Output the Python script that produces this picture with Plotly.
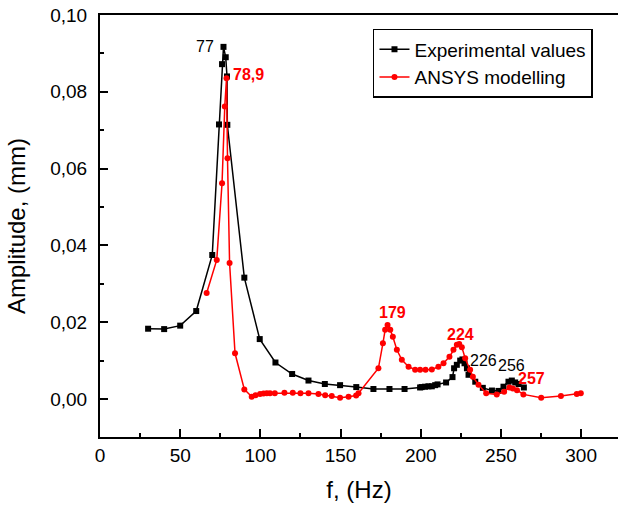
import plotly.graph_objects as go

# Experimental values (black squares)
exp_f = [30, 40, 50, 60, 70, 74.2, 76.1, 77, 78.4, 79.2, 79.4, 90, 99.6, 109.4, 119.8, 130, 140.2,
         149.7, 159.8, 170.5, 180.5, 189.9, 199.6, 200.6, 202.7, 204.8, 206.9, 209, 210.5, 215.8,
         219.8, 220.8, 222.5, 224.6, 226, 227.3, 228.8, 229.8, 234, 238.7, 244.4, 248.5, 251.6,
         254.7, 256.8, 258.9, 261, 264.3]
exp_a = [0.0183, 0.0182, 0.0191, 0.0229, 0.0375, 0.0715, 0.0872, 0.0917, 0.0890, 0.0840, 0.0714,
         0.0316, 0.0156, 0.0095, 0.0065, 0.0048, 0.0039, 0.0036, 0.0031, 0.0026, 0.0026, 0.0026,
         0.0030, 0.0031, 0.0032, 0.0033, 0.0033, 0.0036, 0.0038, 0.0043, 0.0057, 0.0080, 0.0089,
         0.0100, 0.0103, 0.0093, 0.0080, 0.0063, 0.0045, 0.0029, 0.0022, 0.0021, 0.0032, 0.0045,
         0.0048, 0.0043, 0.0039, 0.0030]

# ANSYS modelling (red circles)
ans_f = [66.5, 72.8, 76.1, 77.8, 78.9, 79.5, 80.8, 84.2, 90, 94.6, 97, 99.8, 102, 104, 106, 109,
         115, 120.2, 125, 130, 136.2, 140.4, 144.5, 149.7, 155, 159.7, 161.2, 173.6, 176.4, 177.8,
         179.3, 181, 182.6, 185.1, 188.2, 192.4, 196.5, 199.6, 203, 206.9, 211, 214.2, 217.9,
         220.4, 222.5, 224, 225.6, 227.7, 230.8, 232.5, 236, 240.8, 247.4, 252, 255.3, 257.4,
         260, 264, 275.1, 287.4, 297.3, 299.8]
ans_a = [0.0276, 0.0362, 0.0562, 0.0762, 0.0835, 0.0627, 0.0354, 0.0119, 0.0025, 0.0006, 0.0010,
         0.0013, 0.0014, 0.0015, 0.0015, 0.0015, 0.0016, 0.0016, 0.0015, 0.0015, 0.0013, 0.0010,
         0.0008, 0.0003, 0.0006, 0.0009, 0.0015, 0.0080, 0.0145, 0.0180, 0.0193, 0.0180, 0.0162,
         0.0128, 0.0102, 0.0084, 0.0076, 0.0076, 0.0076, 0.0077, 0.0084, 0.0093, 0.0110, 0.0128,
         0.0141, 0.0143, 0.0135, 0.0106, 0.0076, 0.0058, 0.0037, 0.0015, 0.0012, 0.0019, 0.0030,
         0.0027, 0.0023, 0.0012, 0.0003, 0.0008, 0.0013, 0.0015]

# Peak labels
lbl_text = ["77", "78,9", "179", "224", "226", "256", "257"]
lbl_f = [65.5, 92.3, 182.6, 224.6, 239.1, 256.8, 269.3]
lbl_a = [0.0918, 0.0845, 0.0225, 0.0167, 0.0100, 0.0086, 0.0054]
lbl_color = ["black", "red", "red", "red", "black", "black", "red"]
lbl_bold = [False, True, True, True, False, False, True]

x_ticks = [0, 50, 100, 150, 200, 250, 300]
y_ticks = [0.0, 0.02, 0.04, 0.06, 0.08, 0.10]
y_ticktext = ["0,00", "0,02", "0,04", "0,06", "0,08", "0,10"]

FONT = "Liberation Sans, Arial, sans-serif"

fig = go.Figure()
fig.add_trace(go.Scatter(
    x=exp_f, y=exp_a, mode="lines+markers", name="Experimental values",
    line=dict(color="black", width=1.5),
    marker=dict(symbol="square", size=6, color="black"),
))
fig.add_trace(go.Scatter(
    x=ans_f, y=ans_a, mode="lines+markers", name="ANSYS modelling",
    line=dict(color="#ff0000", width=1.5),
    marker=dict(symbol="circle", size=6, color="#ff0000"),
))

for t, fx, ay, c, b in zip(lbl_text, lbl_f, lbl_a, lbl_color, lbl_bold):
    fig.add_annotation(
        x=fx, y=ay, text=f"<b>{t}</b>" if b else t, showarrow=False,
        font=dict(family=FONT, size=16, color=c),
    )

fig.update_layout(
    width=618, height=506,
    margin=dict(l=100, r=0, t=15, b=69),
    plot_bgcolor="white", paper_bgcolor="white",
    font=dict(family=FONT, size=19, color="black"),
    showlegend=True,
    legend=dict(
        x=0.527, y=0.967, xanchor="left", yanchor="top",
        bgcolor="white", bordercolor="black", borderwidth=1.5,
        font=dict(family=FONT, size=19, color="black"),
        tracegroupgap=0, itemsizing="trace",
    ),
    xaxis=dict(
        range=[0, 323], showline=True, linecolor="black", linewidth=2, mirror=True,
        ticks="inside", ticklen=8, tickwidth=1.5, tickcolor="black",
        tickvals=x_ticks, showgrid=False, zeroline=False, automargin=False,
        minor=dict(ticks="inside", dtick=25, ticklen=4, tickwidth=1.5, tickcolor="black"),
        title=dict(text="f, (Hz)", font=dict(family=FONT, size=24), standoff=16),
        tickfont=dict(family=FONT, size=19),
    ),
    yaxis=dict(
        range=[-0.0099, 0.1], showline=True, linecolor="black", linewidth=2, mirror=False,
        ticks="inside", ticklen=8, tickwidth=1.5, tickcolor="black",
        tickvals=y_ticks, ticktext=y_ticktext, showgrid=False, zeroline=False, automargin=False,
        ticklabelstandoff=7,
        minor=dict(ticks="inside", dtick=0.01, tick0=0, ticklen=4, tickwidth=1.5, tickcolor="black"),
        title=dict(text="Amplitude, (mm)", font=dict(family=FONT, size=24), standoff=18),
        tickfont=dict(family=FONT, size=19),
    ),
)

fig.write_html("out.html", config={"displayModeBar": False},
               post_script="document.body.style.margin='0';")
